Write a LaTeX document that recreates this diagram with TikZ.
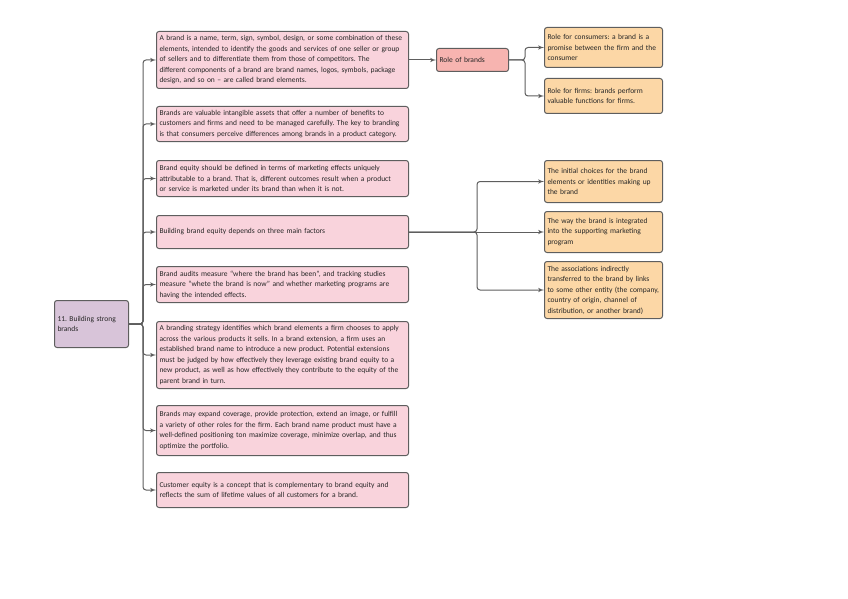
\documentclass[tikz,border=0pt]{standalone}
\usepackage{fontspec}
\setmainfont{Carlito}
\usepackage{tikz}
\usetikzlibrary{shapes,arrows}
\frenchspacing
\definecolor{edgegray}{HTML}{5E5E5E}
\definecolor{pinkfill}{HTML}{F9D3DC}
\definecolor{rolefill}{HTML}{F7B4B0}
\definecolor{orangefill}{HTML}{FCD7A6}
\definecolor{rootfill}{HTML}{D8C4D9}
\tikzstyle{box} = [rectangle, draw=edgegray, line width=1pt, rounded corners=2.5pt,
    align=left, inner xsep=3pt, inner ysep=2pt, anchor=north west, text=black!85,
    font=\fontsize{7.5}{10.5}\selectfont]
\tikzstyle{topic} = [box, fill=pinkfill, text width=246pt]
\tikzstyle{role} = [box, fill=rolefill, text width=66pt]
\tikzstyle{detail} = [box, fill=orangefill, text width=112pt]
\tikzstyle{root} = [box, fill=rootfill, text width=68pt]
\tikzstyle{line} = [draw=edgegray, line width=1pt, rounded corners=3pt, -latex']

\begin{document}
\begin{tikzpicture}[x=1pt, y=-1pt]
    \useasboundingbox (0,0) rectangle (848,599);
    % Place nodes
    \node [root, minimum height=47pt] (root) at (54,300) {11. Building strong\\brands};

    \node [topic, minimum height=57pt] (b1) at (156,31) {A brand is a name, term, sign, symbol, design, or some combination of these\\elements, intended to identify the goods and services of one seller or group\\of sellers and to differentiate them from those of competitors. The\\different components of a brand are brand names, logos, symbols, package\\design, and so on -- are called brand elements.};
    \node [topic, minimum height=35pt] (b2) at (156,106) {Brands are valuable intangible assets that offer a number of benefits to\\customers and firms and need to be managed carefully. The key to branding\\is that consumers perceive differences among brands in a product category.};
    \node [topic, minimum height=36pt] (b3) at (156,160) {Brand equity should be defined in terms of marketing effects uniquely\\attributable to a brand. That is, different outcomes result when a product\\or service is marketed under its brand than when it is not.};
    \node [topic, minimum height=33pt] (b4) at (156,215) {Building brand equity depends on three main factors};
    \node [topic, minimum height=36pt] (b5) at (156,266) {Brand audits measure ``where the brand has been'', and tracking studies\\measure ``whete the brand is now'' and whether marketing programs are\\having the intended effects.};
    \node [topic, minimum height=67pt] (b6) at (156,321) {A branding strategy identifies which brand elements a firm chooses to apply\\across the various products it sells. In a brand extension, a firm uses an\\established brand name to introduce a new product. Potential extensions\\must be judged by how effectively they leverage existing brand equity to a\\new product, as well as how effectively they contribute to the equity of the\\parent brand in turn.};
    \node [topic, minimum height=50pt] (b7) at (156,405) {Brands may expand coverage, provide protection, extend an image, or fulfill\\a variety of other roles for the firm. Each brand name product must have a\\well-defined positioning ton maximize coverage, minimize overlap, and thus\\optimize the portfolio.};
    \node [topic, minimum height=35pt] (b8) at (156,472) {Customer equity is a concept that is complementary to brand equity and\\reflects the sum of lifetime values of all customers for a brand.};

    \node [role, minimum height=23pt] (roles) at (436,48) {Role of brands};
    \node [detail, minimum height=40pt] (consumers) at (544,27) {Role for consumers: a brand is a\\promise between the firm and the\\consumer};
    \node [detail, minimum height=35pt] (firms) at (544,78) {Role for firms: brands perform\\valuable functions for firms.};

    \node [detail, minimum height=42pt] (choices) at (544,160) {The initial choices for the brand\\elements or identities making up\\the brand};
    \node [detail, minimum height=41pt] (program) at (544,211) {The way the brand is integrated\\into the supporting marketing\\program};
    \node [detail, minimum height=57pt] (links) at (544,261) {The associations indirectly\\transferred to the brand by links\\to some other entity (the company,\\country of origin, channel of\\distribution, or another brand)};

    % Draw edges
    \foreach \b in {b1,b2,b3,b4,b5,b6,b7,b8}
        \path [line] (root.east) -- ++(14,0) |- (\b.west);
    \path [line] (b1.east) -- (roles.west);
    \foreach \r in {consumers,firms}
        \path [line] (roles.east) -- ++(16,0) |- (\r.west);
    \foreach \f in {choices,links}
        \path [line] (b4.east) -- ++(68,0) |- (\f.west);
    \path [line] (b4.east) -- (program.west);

\end{tikzpicture}
\end{document}
